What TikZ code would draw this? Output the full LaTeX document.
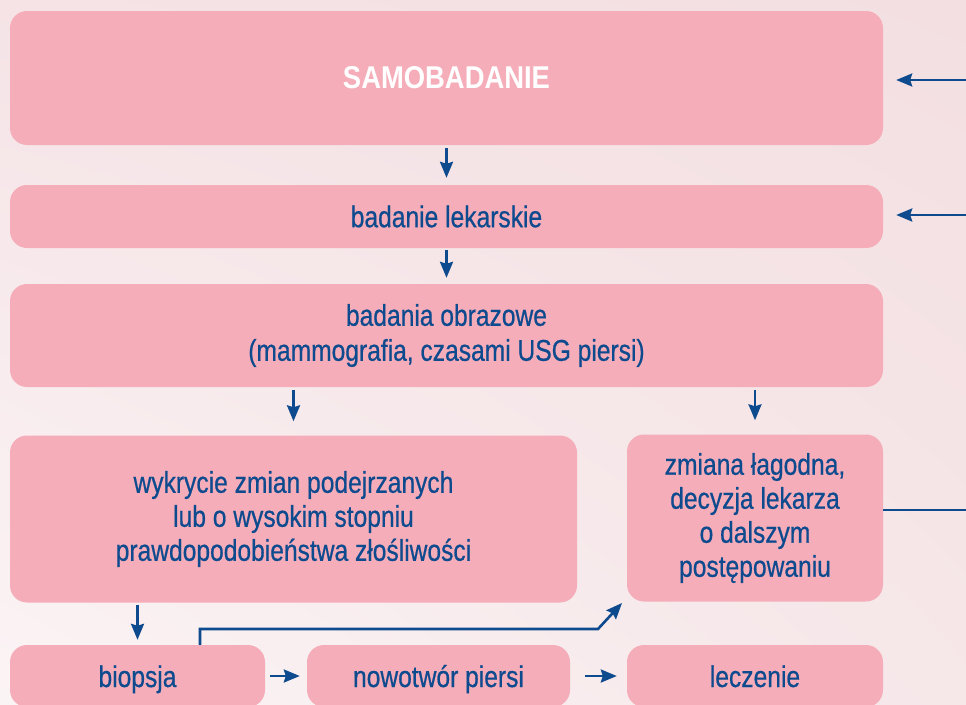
\documentclass[tikz,border=0pt]{standalone}
\usepackage{fontspec}
\setmainfont{Liberation Sans}[FakeStretch=0.82,FakeBold=0.6]
\newfontfamily\headfont{Liberation Sans}[FakeStretch=0.87]
\usetikzlibrary{arrows.meta,shadings}
\definecolor{boxpink}{HTML}{F5AEB9}
\definecolor{inkblue}{HTML}{0E4A8E}
\definecolor{bgul}{HTML}{F5E3E6}
\definecolor{bgur}{HTML}{F3DFE1}
\definecolor{bgll}{HTML}{FBF4F5}
\definecolor{bglr}{HTML}{F6E7E9}

\begin{document}
\begin{tikzpicture}[x=1pt,y=-1pt,
    box/.style={fill=boxpink,rounded corners=17pt,inner sep=0pt,align=center,
      text=inkblue,font=\fontsize{30}{34}\selectfont},
    lowbox/.style={box,minimum height=62pt,text height=22pt,text depth=0pt},
    flow/.style={inkblue,line width=2.6pt,-{Stealth[length=16pt,width=13pt,inset=2pt]}}]
        \shade[upper left=bgul,upper right=bgur,lower left=bgll,lower right=bglr]
          (0,0) rectangle (966,704);
        \useasboundingbox (0,0) rectangle (966,704);

        \path
        (446.5,78) node[box,minimum width=873pt,minimum height=134pt,text=white,
          font=\headfont\bfseries\fontsize{31.5}{35}\selectfont](samo) {SAMOBADANIE}
        (446.5,216.5) node[box,minimum width=873pt,minimum height=63pt](lekarz) {badanie lekarskie}
        (446.5,335.5) node[box,minimum width=873pt,minimum height=103pt,
          font=\fontsize{30}{35}\selectfont](obraz)
          {badania obrazowe\\(mammografia, czasami USG piersi)}
        ;

        \path
        (293.5,519) node[box,minimum width=567pt,minimum height=167pt](wykr)
          {wykrycie zmian podejrzanych\\lub o wysokim stopniu\\prawdopodobieństwa złośliwości}
        (755,518) node[box,minimum width=256pt,minimum height=167pt](lagod)
          {zmiana łagodna,\\decyzja lekarza\\o dalszym\\postępowaniu}
        ;

        \path
        (137.5,676) node[lowbox,minimum width=255pt](biop) {biopsja}
        (438.5,676) node[lowbox,minimum width=263pt](nowot) {nowotwór piersi}
        (755,676) node[lowbox,minimum width=256pt](lecz) {leczenie}
        ;

        \draw[flow,shorten <=3pt,shorten >=7pt] (samo) -- (lekarz);
        \draw[flow,shorten <=2pt,shorten >=6pt] (lekarz) -- (obraz);
        \draw[flow,shorten <=3pt,shorten >=14pt] (obraz.south -| wykr) -- (wykr.north);
        \draw[flow,shorten <=3pt,shorten >=14pt] (obraz.south -| lagod) -- (lagod.north);
        \draw[flow,shorten <=2pt,shorten >=5pt] (wykr.south -| biop) -- (biop.north);
        \draw[flow,shorten <=5pt,shorten >=7pt] (biop) -- (nowot);
        \draw[flow,shorten <=15pt,shorten >=10pt] (nowot) -- (lecz);

        % biopsja back to the benign branch
        \coordinate (split) at (200,0);
        \coordinate (bend) at (598,629);
        \coordinate (tip) at (622,603);
        \draw[flow] (biop.north -| split) |- (bend) -- (tip);

        % loop on the right edge
        \coordinate (in1) at (966,80);
        \coordinate (in2) at (966,215);
        \coordinate (out) at (966,510);
        \draw[flow,shorten >=13pt] (in1) -- (in1 -| samo.east);
        \draw[flow,shorten >=13pt] (in2) -- (in2 -| lekarz.east);
        \draw[inkblue,line width=2.6pt] (out -| lagod.east) -- (out);
\end{tikzpicture}
\end{document}
